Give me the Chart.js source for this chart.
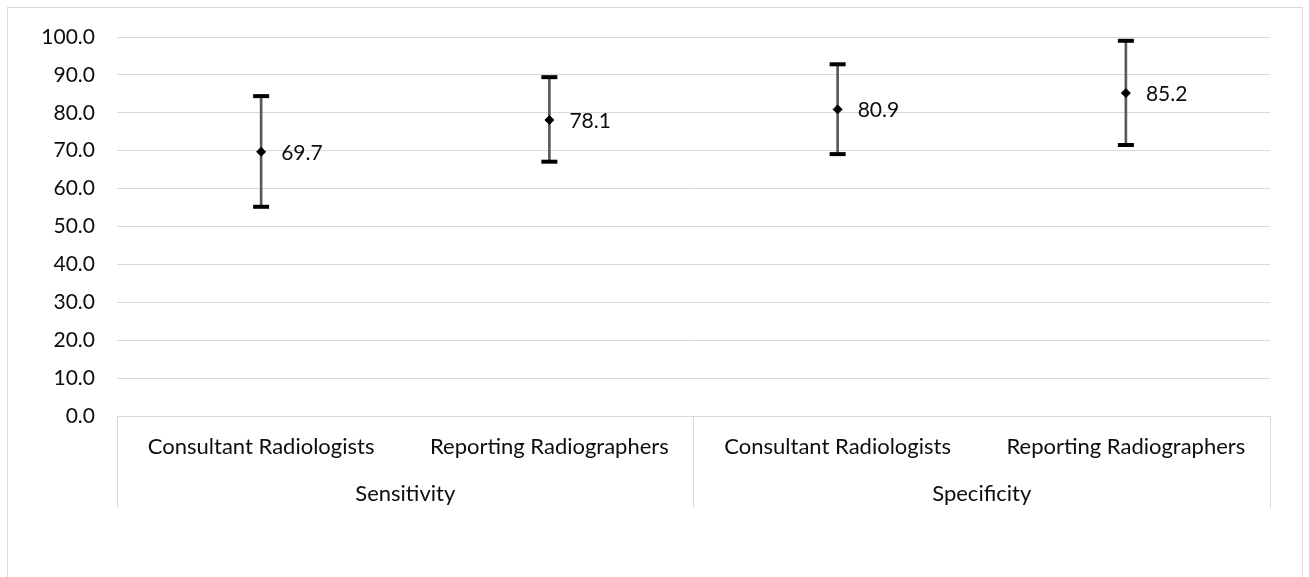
<!DOCTYPE html>
<html>
<head>
<meta charset="utf-8">
<script src="https://cdn.jsdelivr.net/npm/chart.js@4/dist/chart.umd.min.js"></script>
<style>
  html, body { margin: 0; padding: 0; background: #fff; overflow: hidden; }
  #frame { position: absolute; left: 7px; top: 7px; width: 1296px; height: 640px;
           border: 1px solid #d9d9d9; box-sizing: border-box; }
  #wrap { position: absolute; left: 0; top: 0; width: 1309px; height: 577px; }
</style>
</head>
<body>
<div id="frame"></div>
<div id="wrap"><canvas id="c" width="1309" height="577"></canvas></div>
<script>
// Diagnostic accuracy with 95% confidence intervals
const groups = ['Sensitivity', 'Specificity'];
const categories = ['Consultant Radiologists', 'Reporting Radiographers',
                    'Consultant Radiologists', 'Reporting Radiographers'];
const estimates = [69.7, 78.1, 80.9, 85.2];
const lowerCI = [55.2, 67.1, 69.1, 71.5];
const upperCI = [84.4, 89.4, 92.8, 99.0];
const yMin = 0, yMax = 100, yStep = 10;

const FONT = 'Lato';
const NUM_SIZE = 21;
const CAT_SIZE = 22;
const TEXT = '#0d0d0d';
const GRID = '#d9d9d9';
const CLEAR = 'rgba(0,0,0,0)';

// Writes each estimate to the right of its marker
const valueLabels = {
  id: 'valueLabels',
  afterDatasetsDraw(chart) {
    const meta = chart.getDatasetMeta(3);
    const ctx = chart.ctx;
    ctx.save();
    ctx.font = NUM_SIZE + 'px ' + FONT;
    ctx.fillStyle = TEXT;
    ctx.textAlign = 'left';
    ctx.textBaseline = 'middle';
    meta.data.forEach((pt, i) => {
      ctx.fillText(estimates[i].toFixed(1), pt.x + 20, pt.y + 1);
    });
    ctx.restore();
  }
};

const capStyle = {
  type: 'line', showLine: false, pointStyle: 'line',
  pointRadius: 8, pointHoverRadius: 8, pointBorderWidth: 4,
  pointBorderColor: '#000', pointBackgroundColor: '#000', order: 2
};

new Chart(document.getElementById('c'), {
  type: 'bar',
  data: {
    labels: categories,
    datasets: [
      { // whiskers
        type: 'bar',
        data: lowerCI.map((lo, i) => [lo, upperCI[i]]),
        backgroundColor: '#595959',
        barThickness: 2,
        order: 3
      },
      Object.assign({ data: upperCI }, capStyle),
      Object.assign({ data: lowerCI }, capStyle),
      { // point estimates
        type: 'line', showLine: false, data: estimates,
        pointStyle: 'rectRot', pointRadius: 4.5, pointHoverRadius: 4.5,
        pointBorderWidth: 1, pointBorderColor: '#000', pointBackgroundColor: '#000',
        order: 1
      }
    ]
  },
  options: {
    responsive: false,
    animation: false,
    events: [],
    layout: { padding: { left: 0, top: 37, right: 39, bottom: 69 } },
    plugins: { legend: { display: false }, tooltip: { enabled: false } },
    scales: {
      y: {
        min: yMin, max: yMax,
        afterFit(scale) { scale.width = 117; },
        ticks: {
          stepSize: yStep,
          padding: 22,
          color: TEXT,
          font: { family: FONT, size: NUM_SIZE },
          callback: v => Number(v).toFixed(1)
        },
        grid: { color: GRID, lineWidth: 1, drawTicks: false },
        border: { display: false }
      },
      x: {
        weight: 0,
        offset: true,
        afterFit(scale) { scale.height = 46; },
        ticks: {
          autoSkip: false, maxRotation: 0, minRotation: 0,
          padding: -28,
          color: TEXT,
          font: { family: FONT, size: CAT_SIZE }
        },
        grid: {
          drawOnChartArea: false, offset: true, drawTicks: true, tickLength: 46,
          // separators only at the group boundaries (outer edges and middle)
          color: ctx => (ctx.index === undefined || ctx.index % 2 === 0 ? GRID : CLEAR)
        },
        border: { display: true, color: GRID }
      },
      x2: {
        type: 'category',
        labels: groups,
        position: 'bottom',
        weight: 1,
        offset: true,
        afterFit(scale) { scale.height = 46; },
        ticks: {
          autoSkip: false, maxRotation: 0, minRotation: 0,
          padding: -27,
          color: TEXT,
          font: { family: FONT, size: CAT_SIZE }
        },
        grid: {
          drawOnChartArea: false, offset: true, drawTicks: true, tickLength: 46,
          color: GRID
        },
        border: { display: false }
      }
    }
  },
  plugins: [valueLabels]
});
</script>
</body>
</html>
